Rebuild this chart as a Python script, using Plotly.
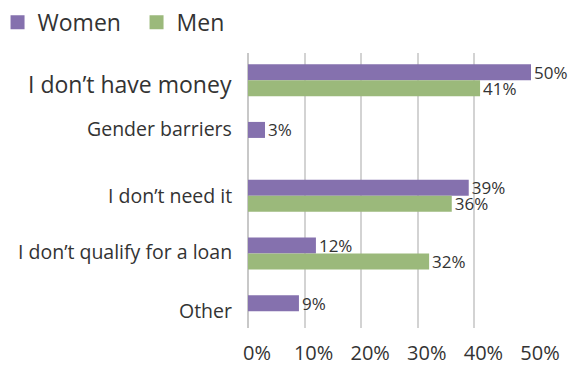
import plotly.graph_objects as go

categories = ["I don’t have money", "Gender barriers", "I don’t need it",
              "I don’t qualify for a loan", "Other"]
women = [50, 3, 39, 12, 9]
men = [41, None, 36, 32, None]
x_ticks = [0, 10, 20, 30, 40, 50]
x_tick_labels = ["0%", "10%", "20%", "30%", "40%", "50%"]

PURPLE = "#8571AE"
GREEN = "#9BB97B"
TEXT = "#333333"
FONT = "Open Sans"


def pct_labels(values):
    return [f"{v}%" if v is not None else "" for v in values]


fig = go.Figure()
for name, vals, color in (("Women", women, PURPLE), ("Men", men, GREEN)):
    fig.add_trace(go.Bar(
        y=categories, x=vals, orientation="h", name=name,
        marker=dict(color=color, line=dict(width=0)),
        text=pct_labels(vals), textposition="outside", constraintext="none",
        textfont=dict(size=17, color=TEXT, family=FONT), cliponaxis=False,
        hoverinfo="skip", showlegend=False,
    ))
# legend-only entries with larger square swatches
for name, color in (("Women", PURPLE), ("Men", GREEN)):
    fig.add_trace(go.Scatter(
        x=[None], y=[None], mode="markers", name=name,
        marker=dict(symbol="square", size=14, color=color),
        showlegend=True, hoverinfo="skip",
    ))

label_sizes = [23, 19.5, 19.5, 19.5, 19.5]
label_shifts = [-4, 9, 0, 2, 1]
for cat, sz, sh in zip(categories, label_sizes, label_shifts):
    fig.add_annotation(
        x=0, xref="paper", y=cat, yref="y", text=cat, showarrow=False,
        xanchor="right", yanchor="middle", xshift=-14, yshift=sh,
        font=dict(size=sz, color=TEXT, family=FONT),
    )

fig.update_layout(
    width=581, height=367,
    margin=dict(l=248, r=50, t=53, b=39, autoexpand=False),
    paper_bgcolor="white", plot_bgcolor="white",
    barmode="group", bargap=0.446, bargroupgap=0,
    font=dict(family=FONT, color=TEXT),
    legend=dict(
        orientation="h", x=-0.885, xanchor="left", y=1.19, yanchor="top",
        font=dict(size=23, color=TEXT, family=FONT),
        itemclick=False, traceorder="normal",
        entrywidth=94, entrywidthmode="pixels",
    ),
    showlegend=True,
)
fig.update_xaxes(
    range=[0, 50], tickvals=x_ticks, ticktext=x_tick_labels,
    showgrid=True, gridcolor="#D3D3D3", gridwidth=1.5,
    zeroline=True, zerolinecolor="#C8C8C8", zerolinewidth=1.5,
    showline=False, ticks="", ticklabelstandoff=11, ticklabelshift=9,
    automargin=False,
    tickfont=dict(size=20, color=TEXT, family=FONT),
    fixedrange=True,
)
fig.update_yaxes(
    categoryorder="array", categoryarray=categories,
    range=[4.29, -0.47], showticklabels=False, showgrid=False,
    zeroline=False, showline=False, ticks="", fixedrange=True,
    automargin=False,
)

fig.write_html("out.html")
